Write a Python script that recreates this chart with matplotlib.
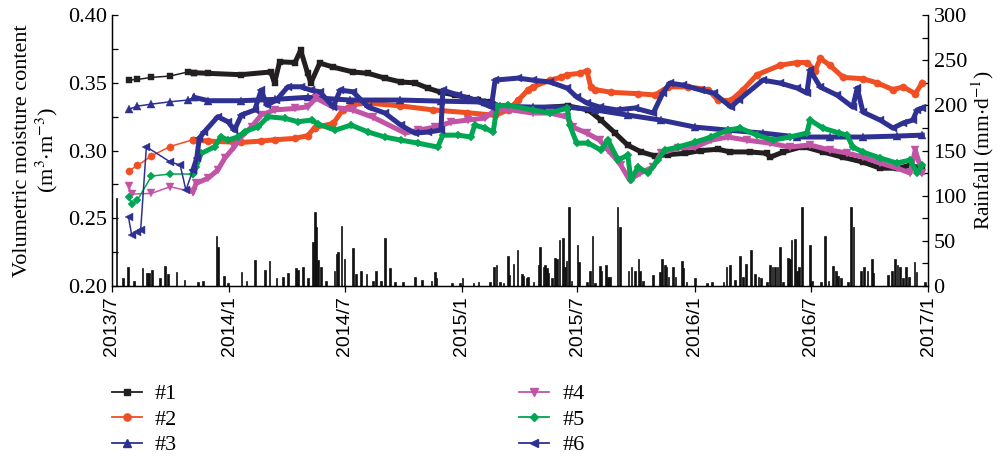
import numpy as np
import pandas as pd
import matplotlib
matplotlib.use("Agg")
import matplotlib.pyplot as plt
from matplotlib.lines import Line2D
from matplotlib.ticker import MultipleLocator, FormatStrFormatter

plt.rcParams['font.family'] = ['Liberation Serif', 'DejaVu Serif']
plt.rcParams['mathtext.fontset'] = 'stix'

BASE = np.datetime64('2013-07-01')

# ---- data: day offsets from 2013-07-01 and volumetric moisture content ----
d1 = [26, 40, 62, 91, 119, 129, 151, 202, 249, 255, 263, 287, 296, 307, 312, 326, 347, 378, 402, 428,
      453, 475, 496, 516, 538, 557, 574, 595, 609, 653, 715, 747, 767, 789, 809, 830, 852, 872, 899, 924,
      951, 969, 1001, 1027, 1032, 1053, 1084, 1115, 1147, 1178, 1205, 1231, 1252, 1271]
v1 = [0.352, 0.3525, 0.354, 0.355, 0.358, 0.3575, 0.357, 0.356, 0.358, 0.350, 0.3655, 0.365, 0.374, 0.357,
      0.350, 0.3646, 0.3616, 0.358, 0.357, 0.3535, 0.3506, 0.350, 0.346, 0.343, 0.341, 0.339, 0.337, 0.336,
      0.332, 0.331, 0.333, 0.330, 0.3225, 0.313, 0.304, 0.299, 0.296, 0.297, 0.298, 0.300, 0.301, 0.299,
      0.299, 0.298, 0.295, 0.299, 0.303, 0.299, 0.295, 0.2915, 0.287, 0.287, 0.289, 0.287]

d2 = [26, 40, 62, 91, 127, 151, 202, 234, 255, 287, 307, 318, 347, 362, 378, 402, 452, 504, 557, 601,
      621, 637, 653, 660, 687, 704, 714, 734, 745, 751, 758, 783, 825, 852, 872, 904, 935, 951, 971, 990,
      1012, 1048, 1075, 1090, 1103, 1111, 1126, 1147, 1178, 1200, 1225, 1241, 1260, 1271]
v2 = [0.285, 0.289, 0.296, 0.303, 0.308, 0.307, 0.306, 0.307, 0.308, 0.309, 0.311, 0.317, 0.320, 0.330,
      0.334, 0.335, 0.333, 0.330, 0.328, 0.326, 0.330, 0.337, 0.345, 0.347, 0.352, 0.354, 0.356, 0.357,
      0.359, 0.347, 0.345, 0.343, 0.342, 0.341, 0.347, 0.347, 0.345, 0.337, 0.337, 0.345, 0.356, 0.363,
      0.365, 0.365, 0.359, 0.368, 0.363, 0.354, 0.353, 0.350, 0.345, 0.347, 0.342, 0.350]

d3 = [26, 40, 62, 91, 119, 129, 151, 202, 255, 307, 373, 452, 516, 585, 609, 660, 714, 758, 809, 861,
      915, 966, 1021, 1075, 1126, 1178, 1231, 1271]
v3 = [0.3304, 0.3328, 0.3343, 0.336, 0.3373, 0.3393, 0.3368, 0.3368, 0.3378, 0.3393, 0.3373, 0.3373,
      0.3365, 0.3358, 0.3328, 0.3321, 0.3321, 0.330, 0.3262, 0.3225, 0.3173, 0.3151, 0.3129, 0.310,
      0.310, 0.310, 0.3107, 0.3114]

d4 = [26, 31, 62, 91, 127, 132, 151, 166, 177, 192, 203, 219, 234, 255, 287, 307, 320, 347, 378, 409,
      460, 480, 507, 532, 558, 585, 601, 626, 660, 687, 714, 723, 745, 765, 778, 792, 798, 812, 828, 849,
      861, 888, 915, 940, 966, 996, 1032, 1063, 1095, 1126, 1153, 1178, 1205, 1231, 1252, 1260, 1271]
v4 = [0.274, 0.2679, 0.2684, 0.2733, 0.2696, 0.2758, 0.2797, 0.2856, 0.2945, 0.3028, 0.3102, 0.3176,
      0.3262, 0.330, 0.3311, 0.3323, 0.3387, 0.3321, 0.330, 0.3247, 0.3129, 0.3151, 0.3173, 0.321, 0.3225,
      0.324, 0.330, 0.330, 0.3277, 0.3277, 0.3247, 0.3173, 0.3129, 0.3077, 0.3004, 0.293, 0.2893, 0.2782,
      0.2834, 0.2878, 0.2982, 0.3018, 0.3026, 0.3077, 0.310, 0.3077, 0.3055, 0.3026, 0.3041, 0.3004,
      0.2982, 0.2952, 0.2908, 0.2871, 0.2834, 0.3004, 0.2834]

d5 = [26, 31, 40, 62, 91, 127, 132, 140, 161, 171, 182, 198, 208, 229, 245, 271, 292, 313, 323, 350,
      375, 402, 428, 453, 480, 511, 519, 543, 563, 569, 585, 598, 604, 621, 660, 687, 714, 718, 729, 747,
      767, 778, 794, 809, 814, 825, 841, 856, 867, 888, 915, 940, 966, 985, 1012, 1037, 1063, 1090, 1095,
      1115, 1141, 1153, 1162, 1178, 1205, 1231, 1252, 1263, 1271]
v5 = [0.2659, 0.2605, 0.2635, 0.2812, 0.2827, 0.2827, 0.288, 0.2979, 0.3028, 0.3102, 0.3077, 0.3102,
      0.3139, 0.3176, 0.325, 0.3238, 0.3213, 0.3225, 0.3196, 0.3151, 0.3188, 0.3137, 0.310, 0.3077, 0.3055,
      0.3026, 0.3114, 0.3114, 0.310, 0.3188, 0.3166, 0.3137, 0.3328, 0.3336, 0.330, 0.3277, 0.3314, 0.3188,
      0.3055, 0.3055, 0.3004, 0.3077, 0.293, 0.2967, 0.2782, 0.2878, 0.2834, 0.293, 0.3004, 0.3026, 0.3063,
      0.310, 0.3151, 0.3166, 0.3114, 0.3077, 0.310, 0.3129, 0.3225, 0.3166, 0.3129, 0.3114, 0.3026, 0.2989,
      0.2945, 0.2908, 0.293, 0.2834, 0.2893]

d6 = [26, 31, 39, 45, 54, 91, 107, 116, 127, 133, 137, 145, 166, 182, 192, 203, 224, 234, 243, 258,
      276, 296, 312, 326, 347, 358, 378, 402, 428, 453, 475, 496, 516, 519, 543, 569, 595, 601, 637, 660,
      687, 714, 729, 745, 765, 792, 820, 849, 864, 875, 896, 924, 944, 971, 983, 1021, 1048, 1075, 1090,
      1095, 1111, 1137, 1162, 1169, 1178, 1205, 1225, 1241, 1256, 1263, 1271]
v6 = [0.2507, 0.2376, 0.2401, 0.2413, 0.3028, 0.2917, 0.2893, 0.2708, 0.2856, 0.2945, 0.3092, 0.3139,
      0.325, 0.3213, 0.3151, 0.3262, 0.330, 0.3446, 0.3336, 0.3373, 0.3471, 0.3471, 0.3446, 0.3434, 0.3323,
      0.3446, 0.3434, 0.3321, 0.3277, 0.3188, 0.3129, 0.3137, 0.3151, 0.3446, 0.341, 0.3373, 0.3321, 0.352,
      0.3535, 0.352, 0.3506, 0.3461, 0.3395, 0.3351, 0.3321, 0.330, 0.3314, 0.3277, 0.3424, 0.3498, 0.3483,
      0.3446, 0.3424, 0.3321, 0.3373, 0.352, 0.3498, 0.3461, 0.3424, 0.3594, 0.3469, 0.341, 0.3321, 0.3461,
      0.3284, 0.3225, 0.3166, 0.3203, 0.3225, 0.330, 0.3314]

# ---- rainfall (mm/d): day offsets from 2013-07-01 and amounts ----
rain_day = [7, 17, 25, 35, 48, 55, 58, 63, 75, 83, 88, 101, 114, 135, 143, 164, 166, 176, 182, 203,
            211, 224, 240, 247, 258, 268, 276, 289, 292, 300, 307, 315, 318, 320, 323, 328, 336, 349, 352,
            355, 360, 365, 378, 383, 391, 399, 409, 414, 422, 428, 436, 444, 457, 475, 486, 501, 507, 509,
            533, 546, 550, 567, 575, 593, 599, 603, 609, 614, 621, 623, 630, 636, 643, 645, 650, 653, 661,
            669, 671, 677, 679, 682, 684, 690, 695, 698, 702, 707, 711, 713, 717, 721, 730, 733, 745, 750,
            754, 758, 765, 768, 775, 778, 781, 793, 797, 810, 815, 820, 826, 828, 833, 849, 860, 863, 867,
            870, 873, 880, 884, 894, 896, 901, 915, 933, 941, 959, 964, 969, 977, 985, 990, 995, 1002, 1009,
            1014, 1018, 1027, 1032, 1036, 1040, 1044, 1048, 1053, 1060, 1064, 1066, 1071, 1074, 1078, 1082,
            1095, 1098, 1112, 1118, 1124, 1131, 1136, 1139, 1144, 1154, 1159, 1163, 1175, 1180, 1185, 1192,
            1194, 1217, 1224, 1228, 1232, 1236, 1241, 1245, 1250, 1259, 1262, 1275]
rain_mm = [97, 8.5, 21, 6, 20, 15, 14, 18, 8.5, 22.5, 13, 16, 7, 5, 6, 55, 43, 11, 3, 16,
           6, 29, 18, 28, 8.5, 10, 14, 20, 18, 21, 8.5, 49, 82, 65, 29, 21, 6, 17, 36,
           38, 67, 30, 42, 13, 17, 13, 6, 17, 6, 53, 20, 5, 4, 9.6, 6.6, 5.5, 16, 8.5,
           3, 3, 8.5, 3, 4, 4, 21, 23, 4, 3, 33, 12, 24, 40, 13, 11, 8.5, 10, 5,
           23, 43.5, 21, 23, 20, 14, 8.5, 31, 30, 51, 53, 21, 28, 88, 6, 45, 27, 5, 17,
           55, 3, 22, 17, 23, 9.6, 10, 88, 65, 17, 21, 17, 29.5, 17, 6, 12, 15.7, 29.5, 23,
           21, 10, 20.7, 9.6, 27.7, 19.6, 5, 8.5, 3, 4, 5, 20.7, 23, 6.6, 33, 10, 24, 40, 13,
           10, 8.5, 5, 23, 21, 21, 21.5, 43.5, 5, 31, 30, 51, 52, 17, 21, 87,
           45, 6, 5, 55, 6, 22, 17, 11, 8.5, 5, 88, 65, 17, 21, 17, 29.5,
           14, 12, 17, 29.5, 23, 21, 8.5, 20.7, 9.6, 27, 15.7, 5]

labels = ['#1', '#2', '#3', '#4', '#5', '#6']
colors = ['#231f20', '#f04e23', '#2e3192', '#c254a6', '#00a651', '#2e3192']
markers = ['s', 'o', '^', 'v', 'D', '<']
msizes = [4.8, 5.2, 5.2, 5.2, 4.4, 5.2]
series = [(d1, v1), (d2, v2), (d3, v3), (d4, v4), (d5, v5), (d6, v6)]


def to_dates(days):
    return BASE + np.array(days).astype('timedelta64[D]')


fig = plt.figure(figsize=(9.97, 4.57), dpi=100)
ax = fig.add_axes([0.1123, 0.374, 0.8185, 0.593])
ax2 = ax.twinx()
ax.set_zorder(2)
ax.patch.set_visible(False)

for (dd, vv), c, m, ms in zip(series, colors, markers, msizes):
    dd = np.array(dd)
    vv = np.array(vv)
    k = int(np.argmax(dd >= 125))
    x = to_dates(dd)
    ax.plot(x[:k + 1], vv[:k + 1], color=c, lw=1.1, marker=m, ms=ms, mec=c, mew=0.3)
    ax.plot(x[k:], vv[k:], color=c, lw=3.6, marker=m, ms=ms, mec=c, mew=0.3,
            solid_joinstyle='round')

ax2.bar(to_dates(rain_day), rain_mm, width=2.6, color='#111111', edgecolor='#111111', lw=0.5)

xmin, xmax = np.datetime64('2013-07-01'), np.datetime64('2017-01-01')
ax.set_xlim(xmin, xmax)
ticks = pd.date_range('2013-07-01', '2017-01-01', freq='6MS')
ax.set_xticks(ticks)
ax.set_xticklabels([f"{t.year}/{t.month}" for t in ticks], rotation=90,
                   family='Liberation Sans', fontsize=14)

ax.set_ylim(0.20, 0.40)
ax.yaxis.set_major_locator(MultipleLocator(0.05))
ax.yaxis.set_minor_locator(MultipleLocator(0.025))
ax.yaxis.set_major_formatter(FormatStrFormatter('%.2f'))
ax2.set_ylim(0, 300)
ax2.yaxis.set_major_locator(MultipleLocator(50))
ax2.yaxis.set_minor_locator(MultipleLocator(25))

for a in (ax, ax2):
    a.spines['top'].set_visible(False)
    for s in a.spines.values():
        s.set_linewidth(0.9)
ax.tick_params(axis='y', which='both', direction='in', length=4.5, width=0.9, labelsize=16)
ax2.tick_params(axis='y', which='both', direction='in', length=4.5, width=0.9, labelsize=16, pad=4)
ax.tick_params(axis='x', direction='out', length=4, width=0.9, pad=3)

ax.set_ylabel('Volumetric moisture content\n(m$^{3}$$\\cdot$m$^{-3}$)', fontsize=16, labelpad=6,
              linespacing=1.1)
ax2.set_ylabel('Rainfall (mm$\\cdot$d$^{-1}$)', fontsize=15.5, labelpad=2)

handles = [Line2D([], [], color=c, lw=1.3, marker=m, ms=ms) for c, m, ms in zip(colors, markers, msizes)]
common = dict(frameon=False, fontsize=16, handlelength=1.35, handletextpad=0.6, labelspacing=0.22,
              borderpad=0, borderaxespad=0, numpoints=1, loc='upper left')
fig.legend(handles[:3], labels[:3], bbox_to_anchor=(0.112, 0.160), **common)
fig.legend(handles[3:], labels[3:], bbox_to_anchor=(0.521, 0.160), **common)

fig.savefig('out.png', dpi=100)
